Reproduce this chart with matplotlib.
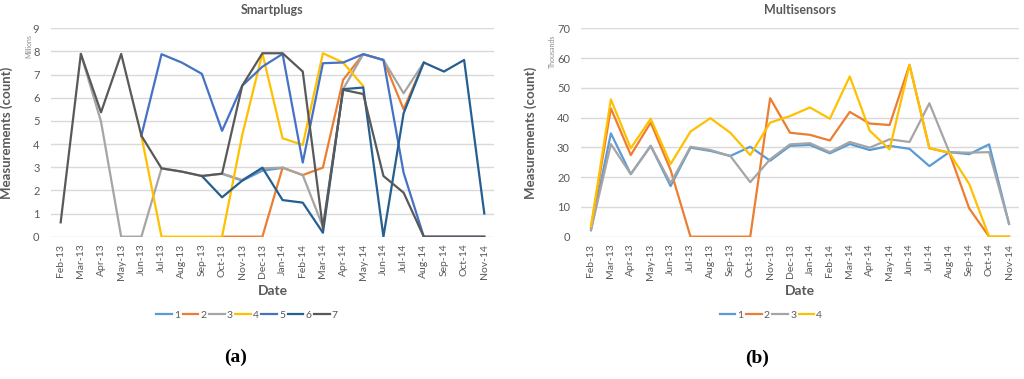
import numpy as np
import matplotlib.pyplot as plt

plt.rcParams['font.family'] = ['Lato', 'DejaVu Sans']

nan = np.nan
months = ['Feb-13', 'Mar-13', 'Apr-13', 'May-13', 'Jun-13', 'Jul-13', 'Aug-13',
          'Sep-13', 'Oct-13', 'Nov-13', 'Dec-13', 'Jan-14', 'Feb-14', 'Mar-14',
          'Apr-14', 'May-14', 'Jun-14', 'Jul-14', 'Aug-14', 'Sep-14', 'Oct-14',
          'Nov-14']

# Smartplugs (millions)
plug1 = [nan] * 8 + [2.72, 2.42, 2.85, 2.97] + [nan] * 10
plug2 = [nan] * 8 + [0, 0, 0, 2.98, 2.66, 2.98, 6.77, 7.88, 7.63, 5.5, 7.52, nan, nan, nan]
plug3 = [nan, 7.89, 4.97, 0, 0, 2.95, 2.81, 2.62, 2.72, 2.45, 2.95, 2.98, 2.66, 0.43,
         6.37, 7.88, 7.63, 6.19, 7.52, nan, nan, nan]
plug4 = [nan] * 4 + [4.36, 0, 0, 0, 0, 4.39, 7.92, 4.25, 3.96, 7.92, 7.52, 6.5] + [nan] * 6
plug5 = [nan] * 4 + [4.36, 7.88, 7.52, 7.03, 4.57, 6.52, 7.34, 7.89, 3.2, 7.49, 7.52,
                     7.88, 7.63, 2.76, 0, 0, 0, 0]
plug6 = [nan] * 7 + [2.62, 1.7, 2.42, 2.98, 1.58, 1.47, 0.17, 6.37, 6.44, 0, 5.33,
                     7.52, 7.13, 7.63, 1.0]
plug7 = [0.62, 7.89, 5.37, 7.89, 4.36, 2.95, 2.81, 2.62, 2.72, 6.52, 7.92, 7.92, 7.13,
         0.36, 6.34, 6.16, 2.62, 1.9, 0, 0, 0, 0]
plugs = [plug1, plug2, plug3, plug4, plug5, plug6, plug7]

# Multisensors (thousands)
sens1 = [2.2, 34.7, 21, 30.5, 17, 29.9, 28.8, 27.1, 30.2, 25.5, 30.5, 30.8, 28, 31.1,
         29.1, 30.5, 29.5, 23.7, 28.4, 27.7, 31, 4.3]
sens2 = [3, 43.1, 27.4, 38.3, 22.4, 0, 0, 0, 0, 46.5, 34.9, 34.2, 32.3, 41.9, 38, 37.5,
         57.7, 29.7, 28.2, 9.5, 0, 0]
sens3 = [2.2, 31.1, 21, 30.5, 18, 30.2, 29.1, 27.1, 18.3, 26, 31, 31.4, 28.4, 31.8,
         29.9, 32.7, 31.8, 44.8, 28.4, 28.2, 28.4, 4.3]
sens4 = [3.4, 46.1, 29.7, 39.6, 24.4, 35.3, 39.8, 34.9, 27.4, 38.3, 40.5, 43.4, 39.6,
         53.8, 35.6, 29.3, 57.7, 29.7, 28.2, 17.7, 0, 0]
sensors = [sens1, sens2, sens3, sens4]

colors = ['#5B9BD5', '#ED7D31', '#A5A5A5', '#FFC000', '#4472C4', '#255E91', '#595959']
txt = '#595959'

fig = plt.figure(figsize=(10.24, 3.79), dpi=100)
ax1 = fig.add_axes([0.0494, 0.3755, 0.4334, 0.55])
ax2 = fig.add_axes([0.5674, 0.3755, 0.4277, 0.55])

x = np.arange(len(months))


def style(ax, ymax, step, title, unit, unit_x):
    ax.set_xlim(-0.5, len(months) - 0.5)
    ax.set_ylim(0, ymax)
    ax.set_yticks(np.arange(0, ymax + 1, step))
    ax.set_xticks(x)
    ax.set_xticklabels(months, rotation=90, fontsize=7.5, color=txt)
    ax.tick_params(axis='y', labelsize=8, colors=txt, length=0, pad=8)
    ax.tick_params(axis='x', length=0, pad=5)
    for s in ax.spines.values():
        s.set_visible(False)
    ax.grid(axis='y', color='#D9D9D9', lw=1)
    ax.set_axisbelow(True)
    ax.set_title(title, fontsize=9, fontweight='bold', color=txt, pad=10)
    ax.set_xlabel('Date', fontsize=10, fontweight='bold', color=txt, labelpad=4)
    ax.set_ylabel('Measurements (count)', fontsize=9.5, fontweight='bold',
                  color=txt, labelpad=14)
    ax.text(unit_x, 0.97, unit, transform=ax.transAxes, rotation=90,
            fontsize=5, color='#8C8C8C', ha='center', va='top')


for i, ys in enumerate(plugs):
    ax1.plot(x, ys, color=colors[i], lw=1.6, label=str(i + 1))
for i, ys in enumerate(sensors):
    ax2.plot(x, ys, color=colors[i], lw=1.6, label=str(i + 1))

style(ax1, 9, 1, 'Smartplugs', 'Millions', -0.05)
style(ax2, 70, 10, 'Multisensors', 'Thousands', -0.065)

fig.legend(handles=ax1.get_lines(), loc='center', ncol=7,
           bbox_to_anchor=(247 / 1024, 1 - 315 / 379), frameon=False,
           fontsize=7.5, labelcolor=txt, handlelength=1.5, handletextpad=0.2,
           columnspacing=0.25)
fig.legend(handles=ax2.get_lines(), loc='center', ncol=4,
           bbox_to_anchor=(771 / 1024, 1 - 315 / 379), frameon=False,
           fontsize=7.5, labelcolor=txt, handlelength=1.5, handletextpad=0.2,
           columnspacing=0.25)

fig.text(236 / 1024, 1 - 357 / 379, '(a)', family='Liberation Serif',
         fontweight='bold', fontsize=14, ha='center', va='center')
fig.text(757 / 1024, 1 - 358 / 379, '(b)', family='Liberation Serif',
         fontweight='bold', fontsize=14, ha='center', va='center')

fig.savefig('out.png', dpi=100)
